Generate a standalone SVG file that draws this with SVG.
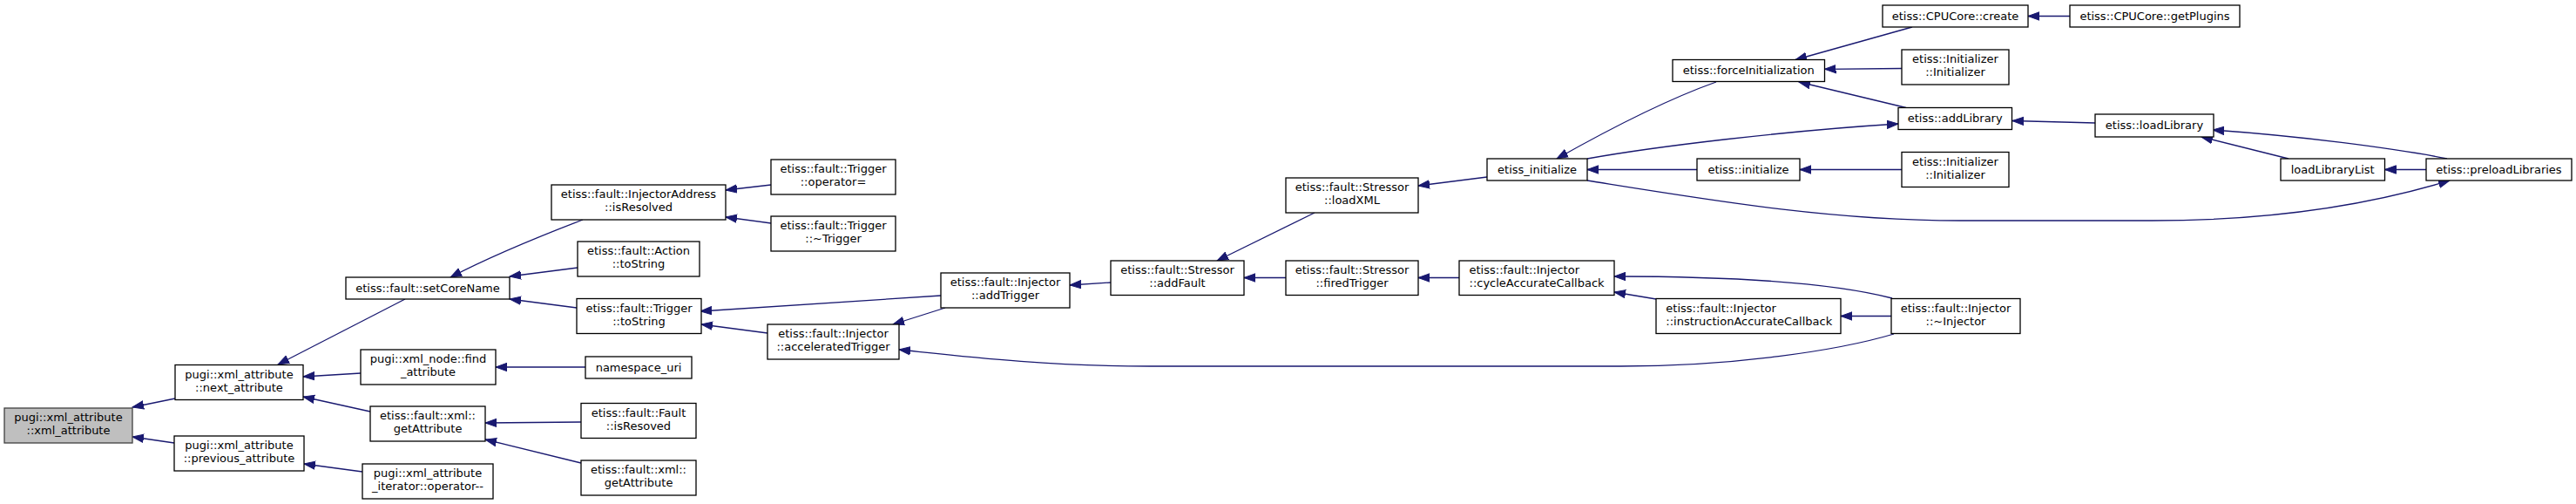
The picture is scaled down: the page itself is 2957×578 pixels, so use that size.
<svg xmlns="http://www.w3.org/2000/svg" width="2957" height="578" viewBox="0 0 2957 578">
<style>
.bg{fill:#ffffff}
.n rect{fill:#ffffff;stroke:#000000;stroke-width:1.3}
.n.root rect{fill:#bfbfbf;stroke:#404040}
.n text{font-family:"DejaVu Sans",sans-serif;font-size:13px;fill:#000000;text-anchor:middle}
.n text.l{text-anchor:start}
#edges path{fill:none;stroke:#191970;stroke-width:1.3;marker-end:url(#ah)}
</style>
<defs>
<marker id="ah" markerUnits="userSpaceOnUse" markerWidth="15" markerHeight="11" refX="13" refY="5.5" orient="auto">
<path d="M0,0.8 L13,5.5 L0,10.2 z" fill="#191970" stroke="#191970" stroke-width="1"/>
</marker>
</defs>
<rect class="bg" x="0" y="0" width="2957" height="578"/>
<g id="edges">
<path d="M201,457 L152,467"/>
<path d="M200,508 L152,501"/>
<path d="M465,343 L319,418"/>
<path d="M414,428 L348,432"/>
<path d="M425,472 L348,455"/>
<path d="M416,541 L349,532"/>
<path d="M669,252 C622,270 565,293 517,318"/>
<path d="M663,307 L585,317"/>
<path d="M662,353 L585,343"/>
<path d="M885,212 L833,218"/>
<path d="M885,256 L833,249"/>
<path d="M672,421 L569,421"/>
<path d="M667,484 L557,485"/>
<path d="M667,531 L557,504"/>
<path d="M1080,339 L804,357"/>
<path d="M881,382 L805,372"/>
<path d="M1085,353 L1025,372"/>
<path d="M2174,383 C2110,402 1990,420 1860,420 L1320,420 C1200,420 1100,408 1032,401"/>
<path d="M1275,324 L1228,327"/>
<path d="M1509,244 L1397,299"/>
<path d="M1476,318.5 L1428,318.5"/>
<path d="M1707,203 L1628,213"/>
<path d="M1675,318.5 L1628,318.5"/>
<path d="M1970,94 C1925,110 1865,138 1787,182"/>
<path d="M1822,182 C1900,168 2050,150 2179,142"/>
<path d="M1948,194.5 L1822,194.5"/>
<path d="M1822,207 C1960,229 2100,253 2250,253 L2470,253 C2610,253 2720,235 2812,207"/>
<path d="M2195,31 L2061,68.5"/>
<path d="M2183,78.5 L2094.5,79.3"/>
<path d="M2188,123.5 L2065,94"/>
<path d="M2183,194.5 L2066,194.5"/>
<path d="M2376,18.5 L2328,18.5"/>
<path d="M2405,141 L2310,138.5"/>
<path d="M2809,182 C2750,170 2640,156 2540,149"/>
<path d="M2627,182 L2527,157"/>
<path d="M2785,194.5 L2737.5,194.5"/>
<path d="M2172,342 C2110,326 2000,317 1853,317"/>
<path d="M1901,343 L1853,335"/>
<path d="M2171,362.5 L2113,362.5"/>
</g>
<g id="n_root" class="n root"><rect x="5" y="468" width="147" height="40"/><text x="78.5" y="483.3">pugi::xml_attribute</text><text x="78.5" y="498.3">::xml_attribute</text></g>
<g id="n_next" class="n"><rect x="201" y="418.5" width="147" height="40"/><text x="274.5" y="433.8">pugi::xml_attribute</text><text x="274.5" y="448.8">::next_attribute</text></g>
<g id="n_prev" class="n"><rect x="200" y="500" width="149" height="40"/><text x="274.5" y="515.3">pugi::xml_attribute</text><text x="274.5" y="530.3">::previous_attribute</text></g>
<g id="n_setCoreName" class="n"><rect x="397" y="318" width="188" height="25"/><text x="491" y="334.5">etiss::fault::setCoreName</text></g>
<g id="n_findAttr" class="n"><rect x="414" y="401" width="155" height="40"/><text x="491.5" y="416.3">pugi::xml_node::find</text><text x="491.5" y="431.3">_attribute</text></g>
<g id="n_getAttr1" class="n"><rect x="425" y="466" width="132" height="40"/><text x="491" y="481.3">etiss::fault::xml::</text><text x="491" y="496.3">getAttribute</text></g>
<g id="n_opMinus" class="n"><rect x="416" y="532" width="150" height="40"/><text x="491" y="547.3">pugi::xml_attribute</text><text x="491" y="562.3">_iterator::operator--</text></g>
<g id="n_isResolved" class="n"><rect x="633" y="212" width="200" height="40"/><text x="733" y="227.3">etiss::fault::InjectorAddress</text><text x="733" y="242.3">::isResolved</text></g>
<g id="n_actionToString" class="n"><rect x="663" y="277" width="140" height="40"/><text x="733" y="292.3">etiss::fault::Action</text><text x="733" y="307.3">::toString</text></g>
<g id="n_triggerToString" class="n"><rect x="662" y="342.5" width="143" height="40"/><text x="733.5" y="357.8">etiss::fault::Trigger</text><text x="733.5" y="372.8">::toString</text></g>
<g id="n_namespaceUri" class="n"><rect x="672" y="409" width="122" height="25"/><text x="733" y="425.5">namespace_uri</text></g>
<g id="n_faultIsResoved" class="n"><rect x="667" y="462.5" width="132" height="40"/><text x="733" y="477.8">etiss::fault::Fault</text><text x="733" y="492.8">::isResoved</text></g>
<g id="n_getAttr2" class="n"><rect x="667" y="528" width="132" height="40"/><text x="733" y="543.3">etiss::fault::xml::</text><text x="733" y="558.3">getAttribute</text></g>
<g id="n_opAssign" class="n"><rect x="885" y="183" width="143" height="40"/><text x="956.5" y="198.3">etiss::fault::Trigger</text><text x="956.5" y="213.3">::operator=</text></g>
<g id="n_dtorTrigger" class="n"><rect x="885" y="248" width="143" height="40"/><text x="956.5" y="263.3">etiss::fault::Trigger</text><text x="956.5" y="278.3">::~Trigger</text></g>
<g id="n_addTrigger" class="n"><rect x="1080" y="313" width="148" height="40"/><text x="1154" y="328.3">etiss::fault::Injector</text><text x="1154" y="343.3">::addTrigger</text></g>
<g id="n_accelTrigger" class="n"><rect x="881" y="372" width="151" height="40"/><text x="956.5" y="387.3">etiss::fault::Injector</text><text x="956.5" y="402.3">::acceleratedTrigger</text></g>
<g id="n_addFault" class="n"><rect x="1275" y="299" width="153" height="39.5"/><text x="1351.5" y="314.3">etiss::fault::Stressor</text><text x="1351.5" y="329.3">::addFault</text></g>
<g id="n_loadXML" class="n"><rect x="1476" y="204" width="152" height="40"/><text x="1552" y="219.3">etiss::fault::Stressor</text><text x="1552" y="234.3">::loadXML</text></g>
<g id="n_firedTrigger" class="n"><rect x="1476" y="299" width="152" height="39.5"/><text x="1552" y="314.3">etiss::fault::Stressor</text><text x="1552" y="329.3">::firedTrigger</text></g>
<g id="n_etiss_initialize" class="n"><rect x="1707" y="182" width="115" height="25"/><text x="1764.5" y="198.5">etiss_initialize</text></g>
<g id="n_cycleAcc" class="n"><rect x="1675" y="299" width="178" height="39.5"/><text class="l" x="1686.5" y="314.3">etiss::fault::Injector</text><text class="l" x="1686.5" y="329.3">::cycleAccurateCallback</text></g>
<g id="n_forceInit" class="n"><rect x="1920" y="68.5" width="174.5" height="25"/><text x="2007.2" y="85">etiss::forceInitialization</text></g>
<g id="n_create" class="n"><rect x="2161" y="6" width="167" height="25"/><text x="2244.5" y="22.5">etiss::CPUCore::create</text></g>
<g id="n_init1" class="n"><rect x="2183" y="57" width="123" height="40"/><text x="2244.5" y="72.3">etiss::Initializer</text><text x="2244.5" y="87.3">::Initializer</text></g>
<g id="n_addLibrary" class="n"><rect x="2179" y="123.5" width="130.5" height="25"/><text x="2244.2" y="140">etiss::addLibrary</text></g>
<g id="n_initialize" class="n"><rect x="1948" y="182" width="118" height="25"/><text x="2007" y="198.5">etiss::initialize</text></g>
<g id="n_init2" class="n"><rect x="2183" y="174.5" width="123" height="40"/><text x="2244.5" y="189.8">etiss::Initializer</text><text x="2244.5" y="204.8">::Initializer</text></g>
<g id="n_instrAcc" class="n"><rect x="1901" y="342.5" width="212" height="40"/><text class="l" x="1912.3" y="357.8">etiss::fault::Injector</text><text class="l" x="1912.3" y="372.8">::instructionAccurateCallback</text></g>
<g id="n_dtorInjector" class="n"><rect x="2171" y="342.5" width="148" height="40"/><text x="2245" y="357.8">etiss::fault::Injector</text><text x="2245" y="372.8">::~Injector</text></g>
<g id="n_getPlugins" class="n"><rect x="2376" y="6" width="195" height="25"/><text x="2473.5" y="22.5">etiss::CPUCore::getPlugins</text></g>
<g id="n_loadLibrary" class="n"><rect x="2405" y="131" width="136" height="26"/><text x="2473" y="148">etiss::loadLibrary</text></g>
<g id="n_loadLibraryList" class="n"><rect x="2618" y="182" width="119.5" height="25"/><text x="2677.7" y="198.5">loadLibraryList</text></g>
<g id="n_preloadLibraries" class="n"><rect x="2785" y="182" width="167" height="25"/><text x="2868.5" y="198.5">etiss::preloadLibraries</text></g>
</svg>
